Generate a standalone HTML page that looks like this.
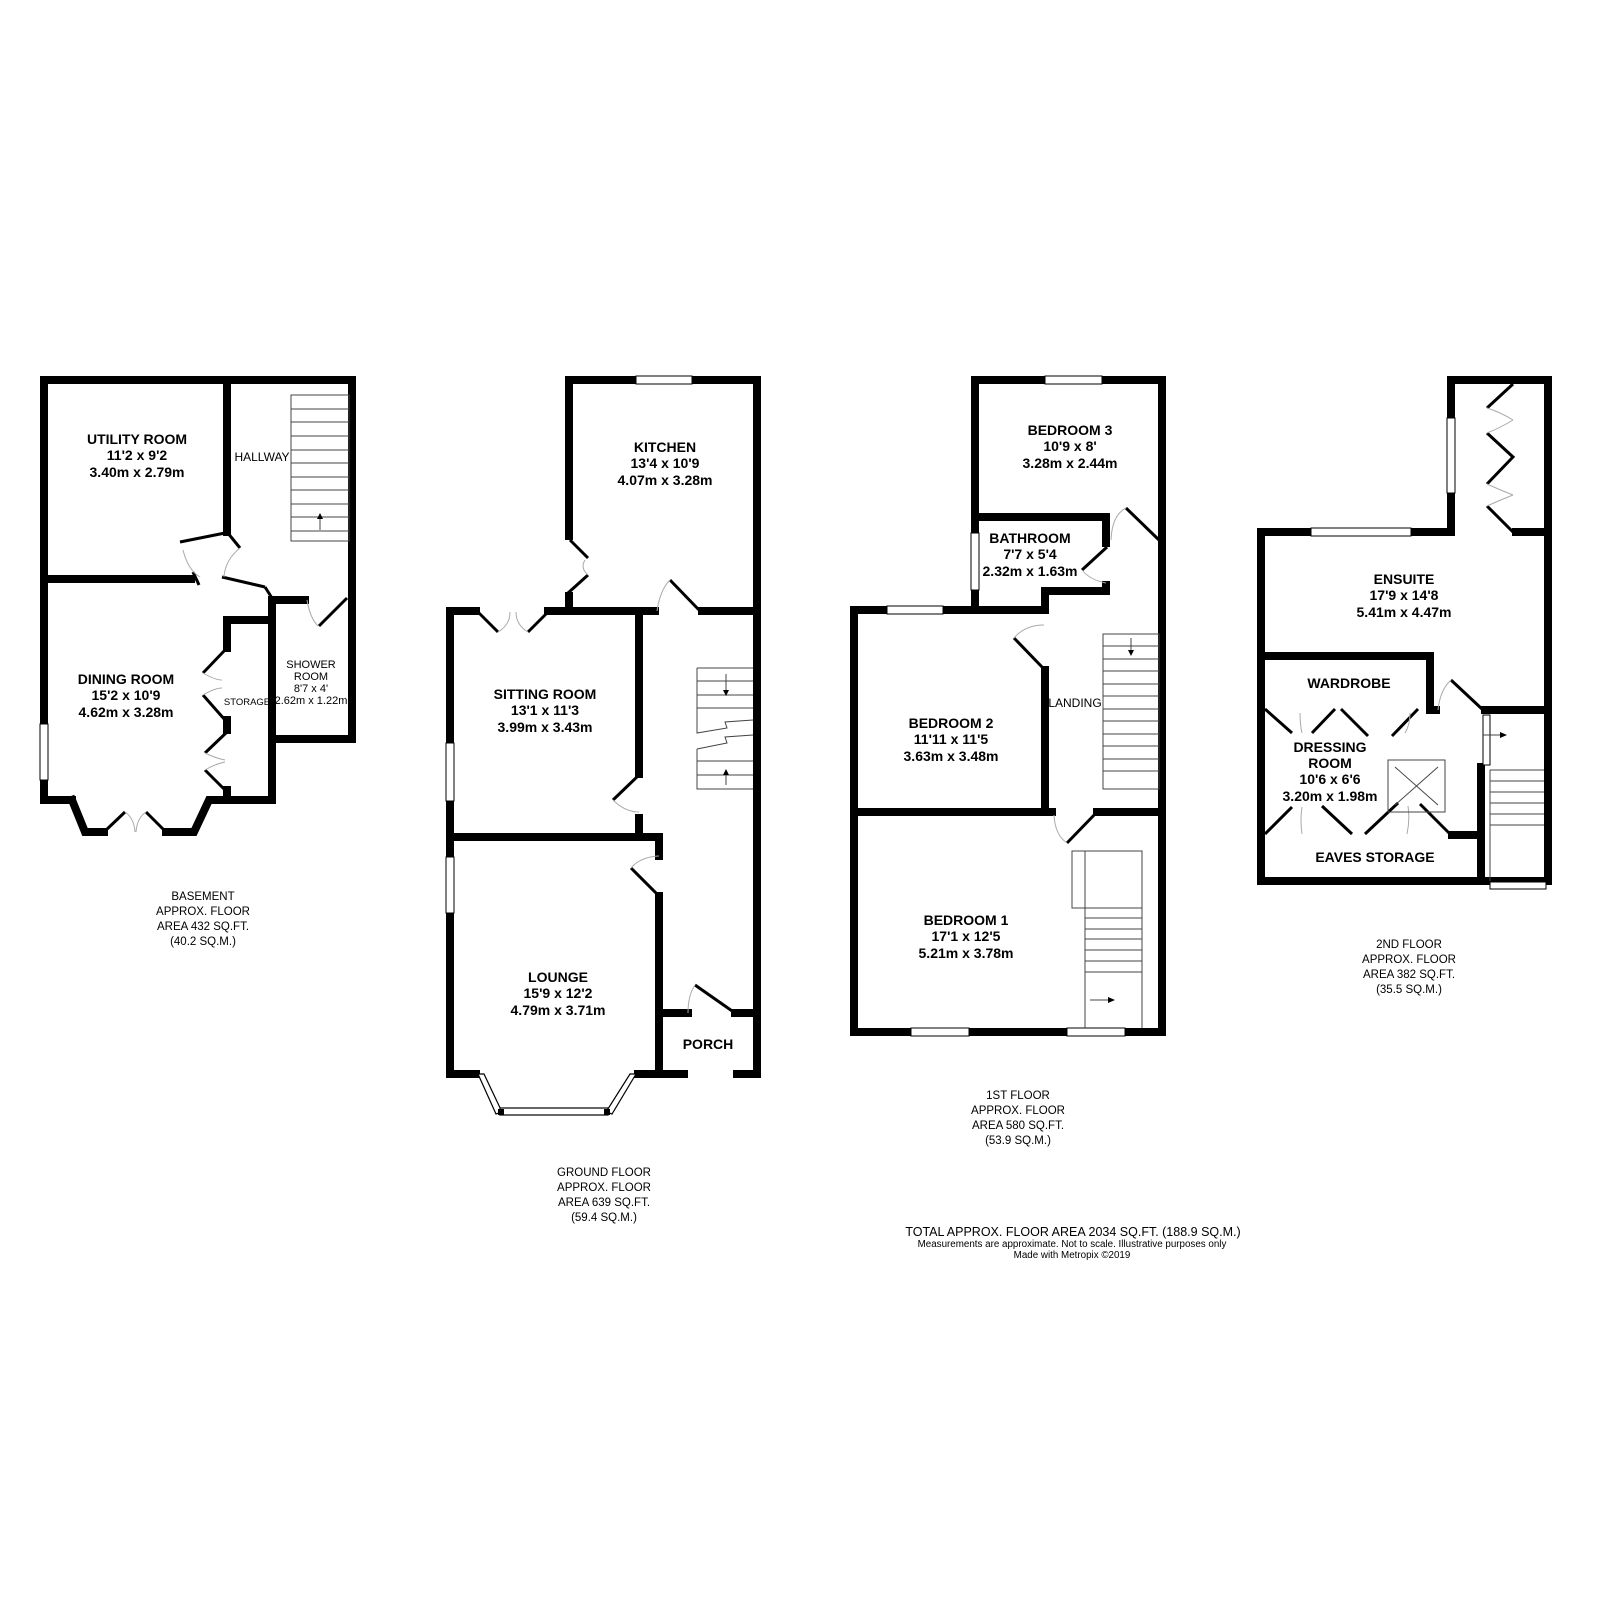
<!DOCTYPE html>
<html><head><meta charset="utf-8"><style>
html,body{margin:0;padding:0;background:#fff;}
svg{display:block;}
text{font-family:"Liberation Sans",Arial,sans-serif;fill:#000;}
.b{font-weight:bold;font-size:14px;}
.r{font-size:12px;}
.s{font-size:11px;}
.c{font-size:11.5px;}
</style></head><body>
<svg width="1600" height="1600" viewBox="0 0 1600 1600" xmlns="http://www.w3.org/2000/svg">
<rect width="1600" height="1600" fill="#fff"/>
<g stroke="#000" stroke-width="8" stroke-linecap="square" fill="none">
<!-- BASEMENT -->
<path d="M44 380 H352 V739"/>
<path d="M44 380 V800 H72"/>
<path d="M72 800 L85 832 H104"/>
<path d="M166 832 H194 L209 800 H272 V739 H352"/>
<path d="M227 380 V532"/>
<path d="M44 579 H191"/>
<path d="M272 600 V739"/>
<path d="M272 600 H305"/>
<path d="M227 620 H272"/>
<path d="M227 620 V648"/>
<path d="M227 720 V730"/>
<path d="M227 790 V800"/>
<!-- GROUND -->
<path d="M569 380 H757 V1074 H737"/>
<path d="M569 380 V536"/>
<path d="M569 596 V610"/>
<path d="M450 611 H476"/>
<path d="M548 611 H655"/>
<path d="M702 611 H757"/>
<path d="M450 611 V1074 H476"/>
<path d="M639 611 V774"/>
<path d="M639 818 V836"/>
<path d="M450 837 H659 V856"/>
<path d="M659 896 V1074"/>
<path d="M638 1074 H684"/>
<path d="M659 1013 H688"/>
<path d="M735 1013 H757"/>
<!-- 1ST -->
<path d="M975 380 H1162 V1032 H854 V610 H1044"/>
<path d="M975 380 V610"/>
<path d="M975 517 H1106 V543"/>
<path d="M1106 585 V591 H1045 V610"/>
<path d="M1045 670 V812"/>
<path d="M854 812 H1052"/>
<path d="M1097 812 H1162"/>
<!-- 2ND -->
<path d="M1451 380 H1548 V881 H1261 V532 H1451 V380"/>
<path d="M1516 532 H1548"/>
<path d="M1265 656 H1430 V710 H1436"/>
<path d="M1485 710 H1548"/>
<path d="M1481 767 V881"/>
<path d="M1452 835 H1481"/>
</g>
<!-- thinner walls / leaves -->
<g stroke="#000" stroke-width="3" fill="none">
<path d="M180 542 L225 533"/>
<path d="M222 577 L265 587"/>
<path d="M319 626 L347 598"/>
<path d="M225 650 L203 673 M203 695 L225 720 M227 732 L205 753 M205 770 L225 790"/>
<path d="M104 832 L125 812 M146 812 L166 832"/>
<path d="M568 593 L588 575 M588 558 L570 540"/>
<path d="M478 612 L498 632 M528 632 L548 612"/>
<path d="M670 580 L700 611"/>
<path d="M639 775 L613 800"/>
<path d="M659 896 L631 868"/>
<path d="M695 985 L735 1013"/>
<path d="M1126 508 L1159 540"/>
<path d="M1107 547 L1082 570"/>
<path d="M1014 638 L1043 668"/>
<path d="M1067 843 L1097 812"/>
<path d="M1451 680 L1482 709"/>
<path d="M1265 709 L1292 733 M1312 733 L1335 709 M1341 709 L1368 736 M1392 736 L1418 709"/>
<path d="M1265 834 L1292 807 M1322 806 L1352 834 M1365 834 L1398 803 M1420 804 L1450 834"/>
<path d="M1513 384 L1487 408 M1487 433 L1513 457 L1487 484 M1487 506 L1513 532"/>
<path d="M227 532 L240 548"/>
<path d="M193 572 L199 585"/>
<path d="M265 587 L272 598"/>
</g>
<!-- door arcs -->
<g stroke="#aaa" stroke-width="1" fill="none">
<path d="M183 550 Q188 570 200 577"/>
<path d="M240 548 Q225 560 224 577"/>
<path d="M307 600 Q310 618 318 626"/>
<path d="M203 673 Q215 680 222 680 M203 695 Q215 688 222 688 M205 753 Q215 758 225 760 M205 770 Q215 764 225 762"/>
<path d="M125 812 Q134 818 135 832 M146 812 Q137 818 136 832"/>
<path d="M588 575 Q580 568 585 560"/>
<path d="M498 632 Q510 625 510 612 M528 632 Q516 625 516 612"/>
<path d="M670 580 Q660 590 657 611"/>
<path d="M613 800 Q625 812 639 812"/>
<path d="M631 868 Q640 857 659 856"/>
<path d="M695 985 Q688 995 688 1013"/>
<path d="M1126 508 Q1112 515 1111 540"/>
<path d="M1082 570 Q1090 580 1106 583"/>
<path d="M1014 638 Q1025 625 1044 625"/>
<path d="M1067 843 Q1055 835 1054 815"/>
<path d="M1451 680 Q1440 690 1438 710"/>
<path d="M1300 713 Q1300 725 1302 733 M1410 713 Q1410 725 1405 733"/>
<path d="M1302 807 Q1300 820 1302 834 M1408 806 Q1410 820 1407 834"/>
<path d="M1487 408 Q1500 412 1513 420 M1487 433 Q1500 428 1513 420 M1487 484 Q1500 490 1513 495 M1487 506 Q1500 500 1513 495"/>
</g>
<!-- windows -->
<g fill="#fff" stroke="#000" stroke-width="1">
<rect x="40" y="724" width="8" height="56"/>
<rect x="636" y="376" width="56" height="8"/>
<rect x="446" y="743" width="8" height="58"/>
<rect x="446" y="857" width="8" height="56"/>
<rect x="1045" y="376" width="57" height="8"/>
<rect x="971" y="533" width="8" height="57"/>
<rect x="887" y="606" width="56" height="8"/>
<rect x="911" y="1028" width="58" height="8"/>
<rect x="1067" y="1028" width="58" height="8"/>
<rect x="1447" y="418" width="8" height="75"/>
<rect x="1311" y="528" width="100" height="8"/>
<rect x="1483" y="715" width="7" height="50"/>
<rect x="1490" y="882" width="56" height="7"/>
</g>
<!-- bays -->
<g stroke="#000" stroke-width="1.2" fill="#fff">
<path d="M478 1074 L496 1114 L502 1112 L484 1074 Z"/>
<rect x="500" y="1108" width="108" height="7"/>
<path d="M636 1074 L612 1114 L606 1112 L630 1074 Z"/>
</g>
<g stroke="#000" stroke-width="6">
<line x1="498" y1="1112" x2="504" y2="1112"/>
<line x1="604" y1="1112" x2="610" y2="1112"/>
</g>
<!-- stairs -->
<g stroke="#444" stroke-width="1" fill="none">
<rect x="291" y="395" width="58" height="146"/>
<path d="M291 409H349M291 422H349M291 436H349M291 450H349M291 463H349M291 477H349M291 490H349M291 504H349M291 517H349M291 531H349"/>
<path d="M320 530 V517"/>
<path d="M697 668 H753 M697 681 H753 M697 695 H753 M697 708 H753 M697 668 V733 L727 728 L725 722 L753 720 M697 749 L727 743 L725 737 L753 735 M697 749 V789 H753 M697 761 H753 M697 775 H753"/>
<path d="M726 674 V690 M726 770 V785"/>
<rect x="1103" y="634" width="56" height="155"/>
<path d="M1103 646H1159M1103 659H1159M1103 671H1159M1103 684H1159M1103 696H1159M1103 709H1159M1103 721H1159M1103 734H1159M1103 746H1159M1103 759H1159M1103 771H1159"/>
<path d="M1131 638 V650"/>
<rect x="1072" y="851" width="70" height="57"/>
<path d="M1085 851 V1028 M1142 908 V1028 M1085 918H1142M1085 929H1142M1085 939H1142M1085 950H1142M1085 961H1142M1085 972H1142"/>
<path d="M1090 1000 H1108 M1483 735 H1500"/>
<path d="M1490 770 H1544 M1490 781H1544M1490 792H1544M1490 803H1544M1490 814H1544M1490 825H1544 M1490 770 V881"/>
<path d="M1388 760 V812 H1445 V760 Z M1395 767 L1438 805 M1438 767 L1395 805"/>
</g>
<g fill="#000">
<path d="M317 519 L323 519 L320 513 Z"/>
<path d="M723 690 L729 690 L726 696 Z"/>
<path d="M723 775 L729 775 L726 769 Z"/>
<path d="M1128 650 L1134 650 L1131 656 Z"/>
<path d="M1108 997 L1108 1003 L1115 1000 Z"/>
<path d="M1500 732 L1500 738 L1507 735 Z"/>
</g>
<!-- labels -->
<g text-anchor="middle">
<text class="b" x="137" y="444">UTILITY ROOM</text>
<text class="b" x="137" y="460">11'2 x 9'2</text>
<text class="b" x="137" y="477">3.40m x 2.79m</text>
<text class="r" x="262" y="461">HALLWAY</text>
<text class="b" x="126" y="684">DINING ROOM</text>
<text class="b" x="126" y="700">15'2 x 10'9</text>
<text class="b" x="126" y="717">4.62m x 3.28m</text>
<text style="font-size:9.5px" x="247" y="705">STORAGE</text>
<text class="s" x="311" y="668">SHOWER</text>
<text class="s" x="311" y="680">ROOM</text>
<text class="s" x="311" y="692">8'7 x 4'</text>
<text class="s" x="311" y="704">2.62m x 1.22m</text>
<text class="c" x="203" y="900">BASEMENT</text>
<text class="c" x="203" y="915">APPROX. FLOOR</text>
<text class="c" x="203" y="930">AREA 432 SQ.FT.</text>
<text class="c" x="203" y="945">(40.2 SQ.M.)</text>

<text class="b" x="665" y="452">KITCHEN</text>
<text class="b" x="665" y="468">13'4 x 10'9</text>
<text class="b" x="665" y="485">4.07m x 3.28m</text>
<text class="b" x="545" y="699">SITTING ROOM</text>
<text class="b" x="545" y="715">13'1 x 11'3</text>
<text class="b" x="545" y="732">3.99m x 3.43m</text>
<text class="b" x="558" y="982">LOUNGE</text>
<text class="b" x="558" y="998">15'9 x 12'2</text>
<text class="b" x="558" y="1015">4.79m x 3.71m</text>
<text class="b" x="708" y="1049">PORCH</text>
<text class="c" x="604" y="1176">GROUND FLOOR</text>
<text class="c" x="604" y="1191">APPROX. FLOOR</text>
<text class="c" x="604" y="1206">AREA 639 SQ.FT.</text>
<text class="c" x="604" y="1221">(59.4 SQ.M.)</text>

<text class="b" x="1070" y="435">BEDROOM 3</text>
<text class="b" x="1070" y="451">10'9 x 8'</text>
<text class="b" x="1070" y="468">3.28m x 2.44m</text>
<text class="b" x="1030" y="543">BATHROOM</text>
<text class="b" x="1030" y="559">7'7 x 5'4</text>
<text class="b" x="1030" y="576">2.32m x 1.63m</text>
<text class="r" x="1075" y="707">LANDING</text>
<text class="b" x="951" y="728">BEDROOM 2</text>
<text class="b" x="951" y="744">11'11 x 11'5</text>
<text class="b" x="951" y="761">3.63m x 3.48m</text>
<text class="b" x="966" y="925">BEDROOM 1</text>
<text class="b" x="966" y="941">17'1 x 12'5</text>
<text class="b" x="966" y="958">5.21m x 3.78m</text>
<text class="c" x="1018" y="1099">1ST FLOOR</text>
<text class="c" x="1018" y="1114">APPROX. FLOOR</text>
<text class="c" x="1018" y="1129">AREA 580 SQ.FT.</text>
<text class="c" x="1018" y="1144">(53.9 SQ.M.)</text>

<text class="b" x="1404" y="584">ENSUITE</text>
<text class="b" x="1404" y="600">17'9 x 14'8</text>
<text class="b" x="1404" y="617">5.41m x 4.47m</text>
<text class="b" x="1349" y="688">WARDROBE</text>
<text class="b" x="1330" y="752">DRESSING</text>
<text class="b" x="1330" y="768">ROOM</text>
<text class="b" x="1330" y="784">10'6 x 6'6</text>
<text class="b" x="1330" y="801">3.20m x 1.98m</text>
<text class="b" x="1375" y="862">EAVES STORAGE</text>
<text class="c" x="1409" y="948">2ND FLOOR</text>
<text class="c" x="1409" y="963">APPROX. FLOOR</text>
<text class="c" x="1409" y="978">AREA 382 SQ.FT.</text>
<text class="c" x="1409" y="993">(35.5 SQ.M.)</text>

<text style="font-size:12.5px" x="1073" y="1236">TOTAL APPROX. FLOOR AREA 2034 SQ.FT. (188.9 SQ.M.)</text>
<text style="font-size:9.8px" x="1072" y="1247">Measurements are approximate.  Not to scale.  Illustrative purposes only</text>
<text style="font-size:9.8px" x="1072" y="1258">Made with Metropix ©2019</text>
</g>
</svg>
</body></html>
